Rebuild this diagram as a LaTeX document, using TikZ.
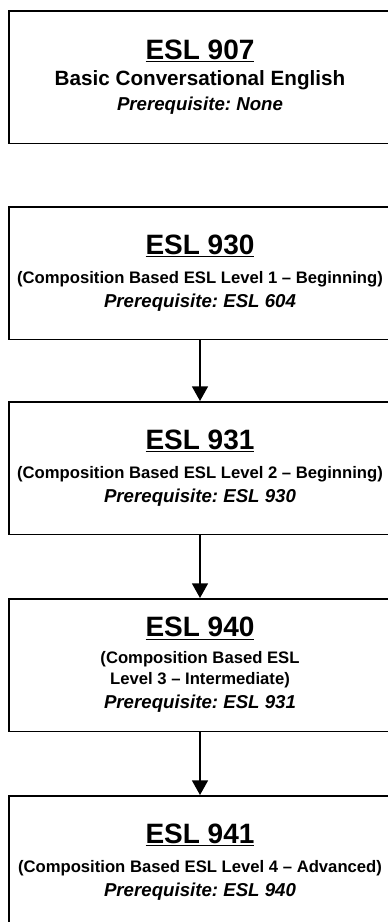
\documentclass[tikz,border=0pt]{standalone}
\usepackage{fontspec}
\setmainfont{Liberation Sans}
\usetikzlibrary{arrows.meta}
\frenchspacing

\newcommand{\crstitle}[1]{{\fontsize{21}{25}\selectfont\underline{#1}}}
\newcommand{\crsnote}[1]{{\fontsize{12.5}{17}\selectfont #1}}
\newcommand{\crsprereq}[1]{{\fontsize{14}{17}\selectfont\itshape #1}}

\tikzset{
  course/.style={draw, line width=1.2pt, anchor=north, minimum width=286.5pt,
    minimum height=99.5pt, inner sep=0pt, align=center,
    font=\fontsize{12.5}{17}\selectfont\bfseries},
  link/.style={line width=1.2pt, -{Triangle[width=12pt,length=11pt]}}
}

\begin{document}
\begin{tikzpicture}[x=0.75pt,y=-0.75pt]
\useasboundingbox (0,0) rectangle (387,922);

\node[course] (esl907) at (200,10) {\crstitle{ESL 907}\\[3pt]
  {\fontsize{15.5}{18}\selectfont Basic Conversational English}\\[1.5pt]
  \crsprereq{Prerequisite: None}};

\node[course] (esl930) at (200,206) {\crstitle{ESL 930}\\[5pt]
  \crsnote{(Composition Based ESL Level 1 -- Beginning)}\\[1pt]
  \crsprereq{Prerequisite: ESL 604}};
\node[course] (esl931) at (200,401) {\crstitle{ESL 931}\\[5pt]
  \crsnote{(Composition Based ESL Level 2 -- Beginning)}\\[1pt]
  \crsprereq{Prerequisite: ESL 930}};
\node[course] (esl940) at (200,598) {\crstitle{ESL 940}\\[3pt]
  \crsnote{(Composition Based ESL}\\[-1pt]
  \crsnote{Level 3 -- Intermediate)}\\[1pt]
  \crsprereq{Prerequisite: ESL 931}};
\node[course] (esl941) at (200,795) {\crstitle{ESL 941}\\[5pt]
  \crsnote{(Composition Based ESL Level 4 -- Advanced)}\\[1pt]
  \crsprereq{Prerequisite: ESL 940}};

\draw[link] (esl930) -- (esl931);
\draw[link] (esl931) -- (esl940);
\draw[link] (esl940) -- (esl941);
\end{tikzpicture}
\end{document}
